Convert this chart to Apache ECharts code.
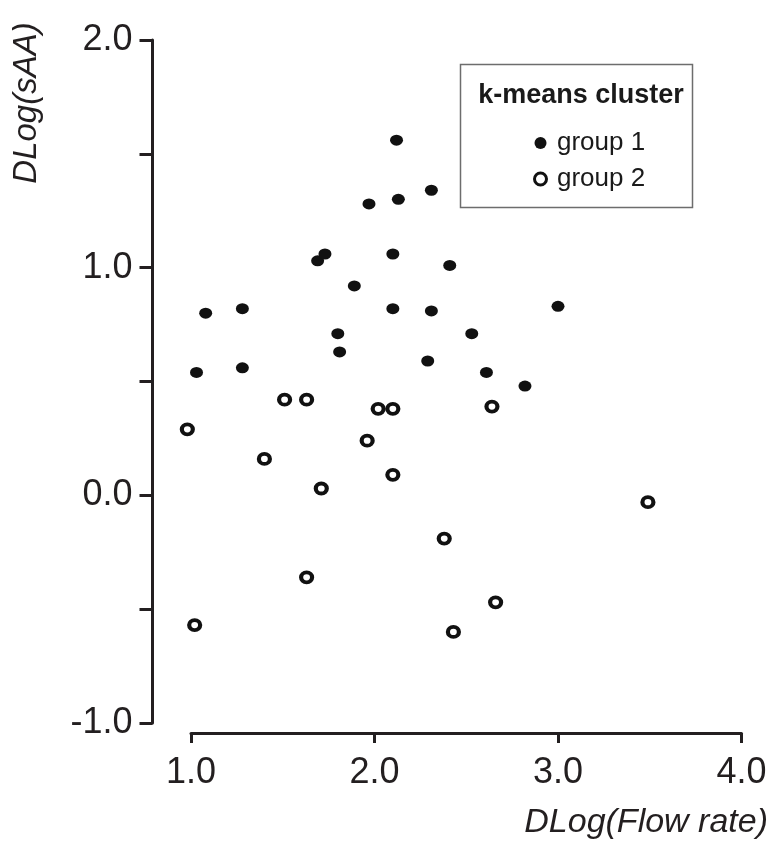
<!DOCTYPE html>
<html>
<head>
<meta charset="utf-8">
<script src="https://cdn.jsdelivr.net/npm/echarts@6/dist/echarts.min.js"></script>
<style>
  html, body { margin: 0; padding: 0; background: #fff; }
  #main { width: 774px; height: 844px; }
</style>
</head>
<body>
<div id="main"></div>
<script>
// k-means cluster scatter: DLog(Flow rate) vs DLog(sAA)
var group1X = [1.03, 1.08, 1.28, 1.28, 1.69, 1.73, 1.89, 1.80, 1.81, 2.10, 2.10, 2.31, 2.29, 2.41,
               2.12, 2.31, 1.97, 2.13, 3.00, 2.53, 2.61, 2.82];
var group1Y = [0.54, 0.80, 0.82, 0.56, 1.03, 1.06, 0.92, 0.71, 0.63, 1.06, 0.82, 0.81, 0.59, 1.01,
               1.56, 1.34, 1.28, 1.30, 0.83, 0.71, 0.54, 0.48];
var group2X = [0.98, 1.51, 1.63, 2.02, 2.10, 1.40, 1.96, 2.10, 1.71, 2.64, 3.49, 2.38, 2.66, 2.43, 1.63, 1.02];
var group2Y = [0.29, 0.42, 0.42, 0.38, 0.38, 0.16, 0.24, 0.09, 0.03, 0.39, -0.03, -0.19, -0.47, -0.60, -0.36, -0.57];
var xTicks = [1, 2, 3, 4];
var yTicks = [-1, 0, 1, 2];

var ink = '#231f20';
var font = 'Liberation Sans, Arial, sans-serif';

function pairs(xs, ys) {
    return xs.map(function (x, i) { return [x, ys[i]]; });
}

var chart = echarts.init(document.getElementById('main'));

chart.setOption({
    animation: false,
    backgroundColor: '#fff',
    grid: { left: 191, right: 32.5, top: 40, bottom: 121 },
    title: {
        text: 'k-means cluster',
        left: 576, top: 77, textAlign: 'center',
        textStyle: { fontFamily: font, fontWeight: 'bold', fontSize: 27, color: '#1a1a1a' }
    },
    legend: {
        orient: 'vertical',
        left: 528, top: 125,
        itemWidth: 13, itemHeight: 12, itemGap: 10,
        textStyle: { fontFamily: font, fontSize: 26, color: '#1a1a1a', padding: [0, 0, 0, 5] },
        data: [
            { name: 'group 1', icon: 'circle', itemStyle: { color: '#111', borderWidth: 0 } },
            { name: 'group 2', icon: 'circle', itemStyle: { color: '#fff', borderColor: '#111', borderWidth: 3 } }
        ]
    },
    xAxis: {
        type: 'value',
        min: xTicks[0], max: xTicks[xTicks.length - 1], interval: 1,
        offset: 10,
        splitLine: { show: false },
        axisLine: { onZero: false, lineStyle: { color: ink, width: 3 } },
        axisTick: { length: 10, lineStyle: { color: ink, width: 3 } },
        axisLabel: {
            margin: 22, fontFamily: font, fontSize: 36, color: ink,
            formatter: function (v) { return v.toFixed(1); }
        }
    },
    yAxis: {
        type: 'value',
        min: yTicks[0], max: yTicks[yTicks.length - 1], interval: 0.5,
        offset: 38.5,
        splitLine: { show: false },
        axisLine: { onZero: false, lineStyle: { color: ink, width: 3 } },
        axisTick: { length: 13, lineStyle: { color: ink, width: 3 } },
        axisLabel: {
            margin: 20, fontFamily: font, fontSize: 36, color: ink,
            formatter: function (v) { return yTicks.indexOf(v) >= 0 ? v.toFixed(1) : ''; }
        }
    },
    graphic: [
        {
            type: 'rect', left: 458, top: 62, z: 0,
            shape: { width: 232, height: 143 },
            style: { fill: 'none', stroke: '#6d6d6d', lineWidth: 1.5 }
        },
        {
            type: 'text', x: 768, y: 823,
            style: { text: 'DLog(Flow rate)', font: 'italic 34px ' + font, fill: ink, align: 'right', verticalAlign: 'middle' }
        },
        {
            type: 'text', x: 27, y: 103, rotation: Math.PI / 2,
            style: { text: 'DLog(sAA)', font: 'italic 33px ' + font, fill: ink, align: 'center', verticalAlign: 'middle' }
        }
    ],
    series: [
        {
            name: 'group 1', type: 'scatter', clip: false,
            symbol: 'circle', symbolSize: [13, 11],
            itemStyle: { color: '#111', opacity: 1 },
            data: pairs(group1X, group1Y)
        },
        {
            name: 'group 2', type: 'scatter', clip: false,
            symbol: 'circle', symbolSize: [11, 10],
            itemStyle: { color: '#fff', borderColor: '#111', borderWidth: 4, opacity: 1 },
            data: pairs(group2X, group2Y)
        }
    ]
});
</script>
</body>
</html>
